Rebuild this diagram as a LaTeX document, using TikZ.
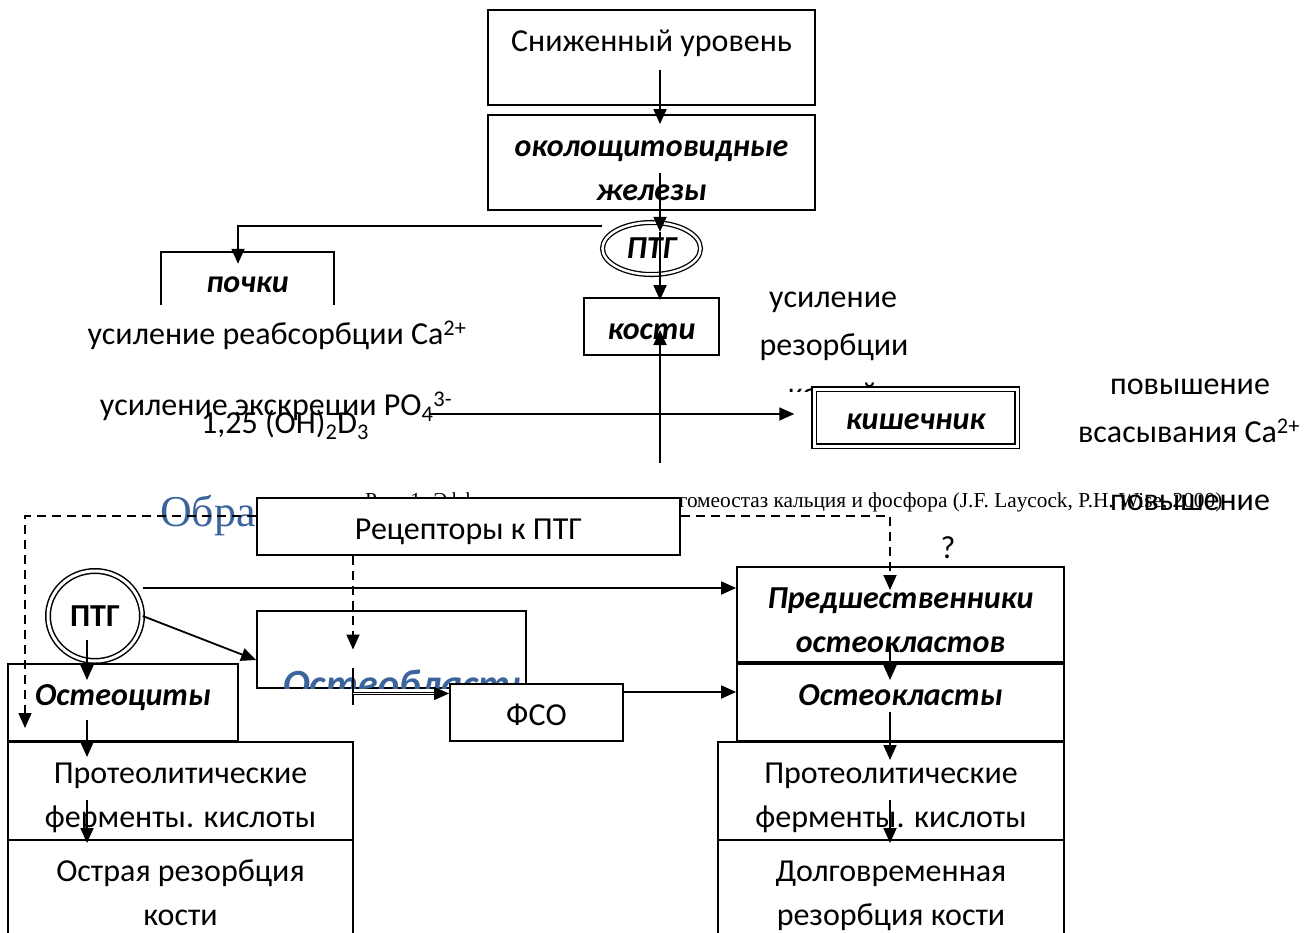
\documentclass[tikz,border=0pt]{standalone}
\usepackage{fontspec}
\setmainfont{Carlito}
\newfontfamily\capfont{Liberation Serif}
\usepackage{tikz}
\usetikzlibrary{positioning,arrows.meta,shapes.geometric}
\definecolor{headBlue}{RGB}{58,100,155}
\newcommand\twoln[2]{\begin{tabular}[t]{@{}c@{}}#1\\#2\end{tabular}}

\begin{document}
\begin{tikzpicture}[
    x=1pt, y=-1pt,
    box/.style={draw, line width=1.8pt, fill=white, inner sep=0pt, text height=41pt,
                font=\fontsize{32}{44}\selectfont},
    bibox/.style={box, font=\fontsize{32}{44}\selectfont\bfseries\itshape},
    txt/.style={inner sep=0pt, align=center, font=\fontsize{32}{45}\selectfont},
    arr/.style={line width=1.8pt, -{Triangle[length=15pt,width=13pt]}},
    dasharr/.style={arr, dash pattern=on 9pt off 6pt}
]
    \useasboundingbox (0,0) rectangle (1304,932);
    \clip (0,0) rectangle (1304,932);

    % upper scheme
    \node[box, minimum width=327, minimum height=95, text depth=54pt] (low) at (651.5,57.5) {Сниженный уровень};
    \node[bibox, minimum width=327, minimum height=95, text depth=54pt] (glands) at (651.5,162.5) {\twoln{околощитовидные}{железы}};
    \node[draw, ellipse, double, double distance=2.5pt, line width=1.3pt, fill=white,
          minimum width=98, minimum height=52, inner sep=0pt,
          font=\fontsize{32}{40}\selectfont\bfseries\itshape] (pth) at (651.5,248.5) {ПТГ};
    \node[inner sep=0pt, text height=40pt, text depth=13pt, font=\fontsize{32}{40}\selectfont\bfseries\itshape,
          minimum width=173, minimum height=53] (kidney) at (247.5,278.5) {почки};
    \draw[line width=1.8pt] (kidney.south west) -- (kidney.north west) -- (kidney.north east) -- (kidney.south east);
    \node[bibox, minimum width=135, minimum height=57, text depth=16pt] (bone) at (651.5,326.5) {кости};

    \node[txt] (reabs) at (277,335) {усиление реабсорбции Ca\textsuperscript{2+}};
    \node[txt] (excr) at (276,407) {усиление экскреции PO\textsubscript{4}\textsuperscript{3-}};
    \node[txt] (vitD) at (285,425) {1,25 (OH)\textsubscript{2}D\textsubscript{3}};

    \node[txt] (res1) at (833,302) {усиление};
    \node[txt] (res2) at (834,347) {резорбции};
    \begin{scope}
        \clip (760,360) rectangle (900,391);
        \node[txt] (res3) at (833,394) {костей};
    \end{scope}
    \node[bibox, double, double distance=3pt, line width=1.5pt, minimum width=203, minimum height=57,
          text height=40pt, text depth=17pt] (gut) at (915.5,417.5) {кишечник};
    \node[txt] (inc1) at (1190,387) {повышение};
    \node[txt] (inc2) at (1189,431) {всасывания Ca\textsuperscript{2+}};

    \coordinate (vd) at (430,414);
    \coordinate (vb) at (660,463);
    \draw[arr] ([xshift=8.5,yshift=-12.5]low.center) -- ([xshift=8.5,yshift=-10]glands.north);
    \draw[arr] ([xshift=8.5,yshift=-10.5]glands.center) -- ([xshift=8.5,yshift=-10]pth.north);
    \draw[arr] ([xshift=8.5,yshift=-10]pth.north) -- ([xshift=8.5,yshift=-3]bone.north);
    \draw[arr] ([yshift=22.5]pth.west) -| ([xshift=-9.5,yshift=-12]kidney.north);
    \draw[arr] (vd) -- ([xshift=-19,yshift=3.5]gut.west);
    \draw[arr] (vb) -- ([xshift=8.5,yshift=-3.5]bone.center);

    % lower scheme
    \node[anchor=base west, inner sep=0pt, font=\capfont\fontsize{21.3}{24}\selectfont] (caption) at (365,507)
        {Рис. 1. Эффекты паратгормона на гомеостаз кальция и фосфора (J.F. Laycock, P.H. Wise, 2000)};
    \node[anchor=base west, inner sep=0pt, text=headBlue, font=\capfont\fontsize{44}{50}\selectfont] (head) at (160,526) {Обра};
    \node[box, minimum width=423, minimum height=57, text depth=16pt] (rec) at (468.5,526.5) {Рецепторы к ПТГ};
    \node[txt] (inc3) at (1190,503) {повышение};
    \node[txt] (q) at (948,548) {?};

    \node[bibox, minimum width=327, minimum height=95, text depth=54pt] (prec) at (900.5,614.5) {\twoln{Предшественники}{остеокластов}};
    \node[bibox, minimum width=327, minimum height=77, text depth=36pt] (ocl) at (900.5,702.5) {Остеокласты};
    \node[draw, line width=1.8pt, fill=white, minimum width=269, minimum height=77] (oblast) at (391.5,649.5) {};
    \begin{scope}
        \clip (oblast.north west) rectangle (oblast.south east);
        \node[anchor=base west, inner sep=0pt, text=headBlue,
              font=\fontsize{40}{50}\selectfont\bfseries\itshape] (oblastText) at (283,697) {Остеобласты};
    \end{scope}
    \node[box, minimum width=173, minimum height=57, text depth=16pt] (fso) at (536.5,712.5) {ФСО};
    \node[bibox, minimum width=230, minimum height=77, text depth=36pt] (ocyte) at (123,702.5) {Остеоциты};
    \node[draw, ellipse, double, double distance=3pt, line width=1.5pt, fill=white,
          minimum width=94, minimum height=90, inner sep=0pt,
          font=\fontsize{32}{40}\selectfont\bfseries] (pth2) at (95,616) {ПТГ};

    \node[box, minimum width=345, minimum height=98, text depth=57pt] (prot1) at (180.5,791) {\twoln{Протеолитические}{ферменты. кислоты}};
    \node[box, minimum width=345, minimum height=98, text depth=57pt] (acute) at (180.5,889) {\twoln{Острая резорбция}{кости}};
    \node[box, minimum width=346, minimum height=98, text depth=57pt] (prot2) at (891,791) {\twoln{Протеолитические}{ферменты. кислоты}};
    \node[box, minimum width=346, minimum height=98, text depth=57pt] (long) at (891,889) {\twoln{Долговременная}{резорбция кости}};

    \coordinate (dl) at (25,728);
    \coordinate (dr) at (890,590);
    \coordinate (p1) at ([yshift=28]pth2.east);
    \coordinate (f1) at ([yshift=20.5]fso.east);
    \coordinate (fork) at (353,693.5);
    \draw[dasharr] ([yshift=10.5]rec.west) -| (dl);
    \draw[dasharr] ([yshift=10.5]rec.east) -| (dr);
    \draw[dasharr] ([xshift=-115.5]rec.south) -- ([xshift=-115.5]rec.south |- oblast.center);
    \draw[arr] (p1) -- (p1 -| prec.west);
    \draw[arr] (pth2.east) -- ([yshift=-10.5]oblast.west);
    \draw[arr] ([xshift=-8,yshift=-24]pth2.center) -- ([xshift=-36,yshift=22.5]ocyte.center);
    \draw[line width=1.8pt] ([xshift=-38.5,yshift=-18.5]oblast.center) -- ([xshift=-38.5,yshift=-55.5]oblast.center);
    \draw[arr, double, double distance=1.2pt, line width=1.2pt] (fork) -- (fork -| fso.west);
    \draw[arr] (f1) -- (f1 -| ocl.west);
    \draw[arr] ([xshift=-10.5,yshift=-30.5]prec.center) -- ([xshift=-10.5,yshift=22.5]ocl.center);
    \draw[arr] ([xshift=-10.5,yshift=-9.5]ocl.center) -- ([xshift=-1,yshift=31]prot2.center);
    \draw[arr] ([xshift=-1,yshift=-9]prot2.center) -- ([xshift=-1,yshift=46]long.center);
    \draw[arr] ([xshift=-36,yshift=-17.5]ocyte.center) -- ([xshift=-93.5,yshift=34]prot1.center);
    \draw[arr] ([xshift=-93.5,yshift=-9]prot1.center) -- ([xshift=-93.5,yshift=46]acute.center);
\end{tikzpicture}
\end{document}
